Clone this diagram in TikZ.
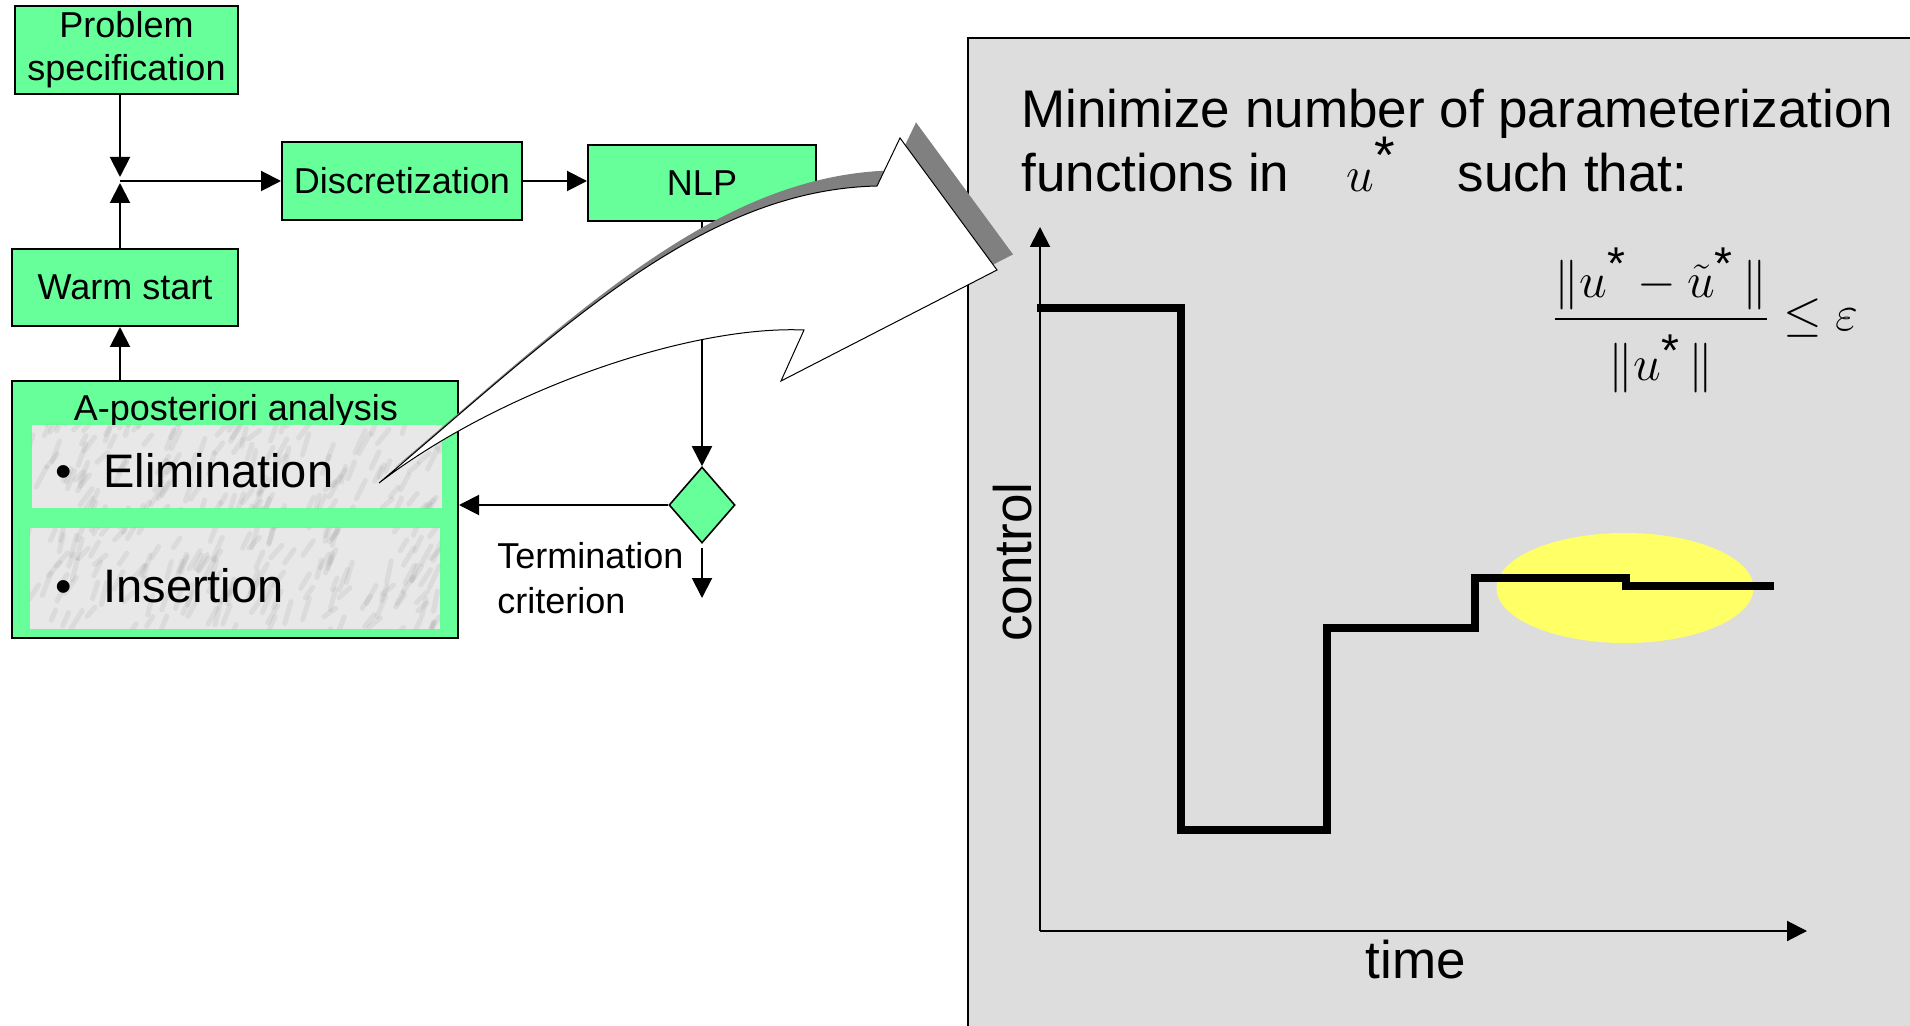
\documentclass[tikz,border=0pt]{standalone}
\usepackage{fontspec}
\setmainfont{Liberation Sans}
\usepackage{amsmath}
\usepackage{tikz}
\usetikzlibrary{shapes.geometric, arrows.meta, calc}
\usepackage{xcolor}

\definecolor{boxgreen}{HTML}{66FF99}
\definecolor{panelgray}{HTML}{DDDDDD}
\definecolor{shadowgray}{HTML}{808080}
\definecolor{marblegray}{HTML}{E8E8E8}
\definecolor{hilite}{HTML}{FFFF66}

\tikzset{
    box/.style={draw, line width=1pt, fill=boxgreen, align=center, inner sep=0pt,
        font=\fontsize{18}{21.5}\selectfont},
    flow/.style={-{Triangle[length=10pt,width=10pt]}, line width=1pt},
    big/.style={font=\fontsize{26.5}{32}\selectfont, inner sep=0pt},
    small/.style={font=\fontsize{18}{22.5}\selectfont, inner sep=0pt},
    bullet/.style={font=\fontsize{23.5}{28}\selectfont, inner sep=0pt, anchor=base west},
    marble/.style={fill=marblegray, minimum width=205pt, inner sep=0pt},
    streak/.style={black!50, line width=2.5pt, opacity=0.12, line cap=round},
}

\newcommand{\bendarrow}{(379,483) .. controls (560,330) and (700,190) .. (877,186)
    -- (900,138) -- (997,270) -- (781,381) -- (804,330)
    .. controls (690,325) and (500,390) .. (379,483) -- cycle}
\newcommand{\ustar}{u^{\mbox{*}}}

\begin{document}
\begin{tikzpicture}[x=0.5pt, y=-0.5pt]
    \useasboundingbox (0,0) rectangle (1910,1026);
    % Panel
    \fill[panelgray] (968,38) rectangle (1910,1026);
    \draw[line width=1pt] (968,1026) -- (968,38) -- (1910,38);
    \node[big, anchor=base west, align=left] (goal) at (1021,192)
        {Minimize number of parameterization\\
         functions in\hspace{28.5pt}\makebox[55.5pt][l]{\smash{$\ustar$}}such that:};
    \node[font=\fontsize{23}{27}\selectfont, inner sep=0pt, anchor=base west] (crit) at (1552,331)
        {$\displaystyle\frac{\|\ustar-\tilde{u}^{\mbox{*}}\,\|}{\|\ustar\,\|\rule{0pt}{1.2em}}\le\varepsilon$};
    % Plot
    \fill[hilite] (1625,588) ellipse [x radius=64.25pt, y radius=27.5pt];
    \coordinate (orig) at (1040,931);
    \coordinate (ytop) at (1040,227);
    \coordinate (xend) at (1807,931);
    \draw[flow] (orig) -- (ytop);
    \draw[flow] (orig) -- (xend);
    \draw[line width=3.8pt, line join=miter] (1037,308) -- (1181,308) -- (1181,830) -- (1327,830)
        -- (1327,628) -- (1475,628) -- (1475,578) -- (1626,578) -- (1626,586) -- (1774,586);
    \node[big, rotate=90, anchor=base] (ylab) at (1031,562) {control};
    \node[big, anchor=base] (xlab) at (1416,978) {time};
    % Flowchart
    \node[box, minimum width=111.5pt, minimum height=44pt] (spec) at (126.5,50) {Problem\\specification};
    \node[box, minimum width=113pt, minimum height=38.5pt] (warm) at (125,287.5) {Warm start};
    \node[box, minimum width=120pt, minimum height=39pt] (disc) at (402,181) {Discretization};
    \node[box, minimum width=114pt, minimum height=38pt] (nlp) at (702,183) {NLP};
    \node[box, minimum width=223pt, minimum height=128.5pt] (post) at (235,509.5) {};
    \node[small, anchor=base] (posttitle) at (236,420) {A-posteriori analysis};
    \node[marble, minimum height=41.5pt] (elim) at (237,466.5) {};
    \node[marble, minimum height=50.5pt] (ins) at (235,578.5) {};
    % Marble
    \begin{scope}
        \clip (elim.south west) rectangle (elim.north east) (ins.south west) rectangle (ins.north east);
        \pgfmathsetseed{7}
        \foreach \k in {1,...,300}
            \draw[streak] ({20+430*rnd},{420+220*rnd}) -- ++({4+8*rnd},{-8-14*rnd});
    \end{scope}
    \node[bullet] (elimtxt) at (55,487) {\makebox[24pt][l]{\textbullet}Elimination};
    \node[bullet] (instxt) at (55,602) {\makebox[24pt][l]{\textbullet}Insertion};
    \node[draw, line width=0.8pt, fill=boxgreen, diamond, inner sep=0pt,
        minimum width=33pt, minimum height=38pt] (test) at (702,505) {};
    \node[small, anchor=base west, align=left] (stoptxt) at (497,613) {Termination\\criterion};
    % Connectors
    \coordinate (jn) at (120,181);
    \coordinate (stop) at (702,598);
    \draw[flow, shorten >=2pt] (spec.south -| jn) -- (jn);
    \draw[flow, shorten >=1pt] (warm.north -| jn) -- (jn);
    \draw[flow] (jn) -- (disc.west |- jn);
    \draw[flow] (disc.east) -- (nlp.west |- disc.east);
    \draw[flow] (post.north -| jn) -- (warm.south -| jn);
    \draw[flow] (nlp.south) -- (test.north);
    \draw[flow] (test.west) -- (post.east |- test.west);
    \draw[flow] ([yshift=-2pt]test.south) -- (stop);
    % Arrow
    \fill[shadowgray, shift={(16,-15.6)}] \bendarrow;
    \filldraw[fill=white, draw=black, line width=0.5pt] \bendarrow;
\end{tikzpicture}
\end{document}
